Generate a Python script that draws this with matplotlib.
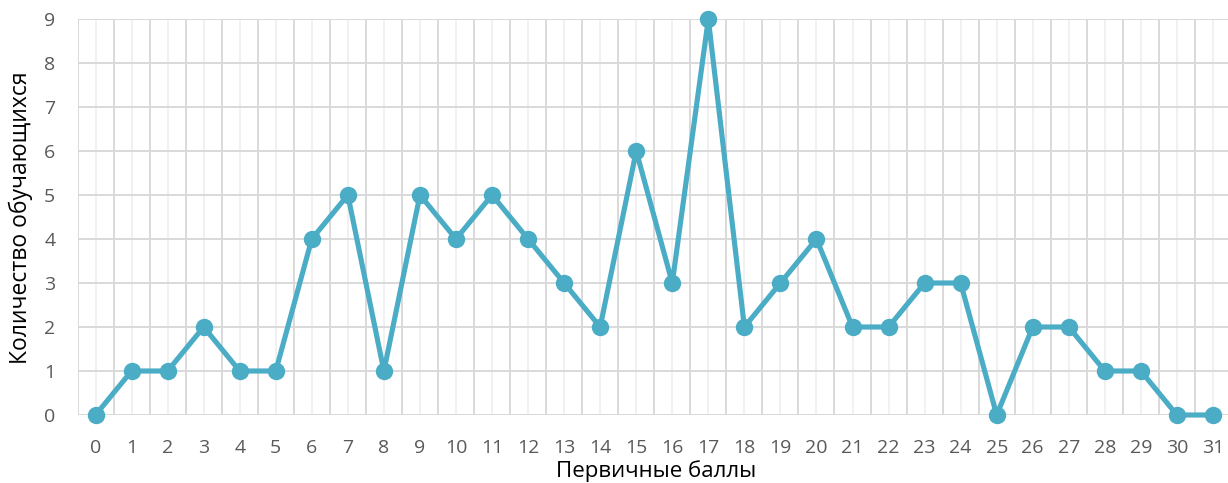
import matplotlib
matplotlib.use("Agg")
import matplotlib.pyplot as plt
import numpy as np

scores = list(range(32))
counts = [0, 1, 1, 2, 1, 1, 4, 5, 1, 5, 4, 5, 4, 3, 2, 6, 3, 9, 2, 3, 4, 2, 2, 3, 3, 0, 2, 2, 1, 1, 0, 0]
xlabel = "Первичные баллы"
ylabel = "Количество обучающихся"

plt.rcParams['font.family'] = ['Open Sans', 'DejaVu Sans']

W, H = 1228, 483
fig = plt.figure(figsize=(W/100, H/100), dpi=100)
left = 77.5 / W
right_px = 1231.0
bottom = (H - 415) / H
top = (H - 19) / H
ax = fig.add_axes([left, bottom, (right_px - 77.5) / W, top - bottom])

ax.plot(scores, counts, color='#4BACC6', lw=3.7, marker='o', ms=11.5, zorder=3, clip_on=False,
        solid_joinstyle='round')

ax.set_xlim(-0.5, 31.5)
ax.set_ylim(0, 9)
ax.set_xticks(scores)
ax.set_xticks(np.arange(-0.5, 32, 1.0), minor=True)
ax.set_yticks(range(10))
ax.tick_params(axis='both', which='both', length=0, labelsize=14, labelcolor='#595959')
ax.tick_params(axis='x', pad=17)
ax.tick_params(axis='y', pad=16)

ax.grid(axis='x', which='major', color='#EFEFEF', lw=1.2, zorder=0)
ax.grid(axis='x', which='minor', color='#D9D9D9', lw=1.4, zorder=0)
ax.grid(axis='y', which='major', color='#D9D9D9', lw=1.4, zorder=0)
ax.set_axisbelow(True)
for s in ax.spines.values():
    s.set_visible(False)

fig.text(656 / W, (H - 471) / H, xlabel, fontsize=16, color='black', ha='center', va='center')
fig.text(21 / W, (H - 218) / H, ylabel, fontsize=16.5, color='black', ha='center', va='center', rotation=90)

fig.savefig("out.png", dpi=100)
